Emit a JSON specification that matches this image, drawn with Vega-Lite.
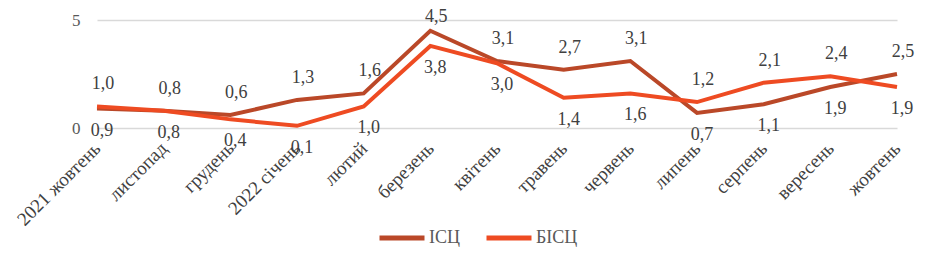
{
  "$schema": "https://vega.github.io/schema/vega-lite/v6.json",
  "width": 800,
  "height": 108,
  "autosize": {"type": "none"},
  "padding": {"left": 97, "top": 20, "right": 46, "bottom": 140},
  "background": "white",
  "config": {"view": {"stroke": null}, "font": "Liberation Serif"},
  "data": {
    "values": [
      {"month": "2021 жовтень", "series": "ІСЦ", "value": 0.9},
      {"month": "листопад", "series": "ІСЦ", "value": 0.8},
      {"month": "грудень", "series": "ІСЦ", "value": 0.6},
      {"month": "2022 січень", "series": "ІСЦ", "value": 1.3},
      {"month": "лютий", "series": "ІСЦ", "value": 1.6},
      {"month": "березень", "series": "ІСЦ", "value": 4.5},
      {"month": "квітень", "series": "ІСЦ", "value": 3.1},
      {"month": "травень", "series": "ІСЦ", "value": 2.7},
      {"month": "червень", "series": "ІСЦ", "value": 3.1},
      {"month": "липень", "series": "ІСЦ", "value": 0.7},
      {"month": "серпень", "series": "ІСЦ", "value": 1.1},
      {"month": "вересень", "series": "ІСЦ", "value": 1.9},
      {"month": "жовтень", "series": "ІСЦ", "value": 2.5},
      {"month": "2021 жовтень", "series": "БІСЦ", "value": 1.0},
      {"month": "листопад", "series": "БІСЦ", "value": 0.8},
      {"month": "грудень", "series": "БІСЦ", "value": 0.4},
      {"month": "2022 січень", "series": "БІСЦ", "value": 0.1},
      {"month": "лютий", "series": "БІСЦ", "value": 1.0},
      {"month": "березень", "series": "БІСЦ", "value": 3.8},
      {"month": "квітень", "series": "БІСЦ", "value": 3.0},
      {"month": "травень", "series": "БІСЦ", "value": 1.4},
      {"month": "червень", "series": "БІСЦ", "value": 1.6},
      {"month": "липень", "series": "БІСЦ", "value": 1.2},
      {"month": "серпень", "series": "БІСЦ", "value": 2.1},
      {"month": "вересень", "series": "БІСЦ", "value": 2.4},
      {"month": "жовтень", "series": "БІСЦ", "value": 1.9}
    ]
  },
  "transform": [
    {"joinaggregate": [{"op": "max", "field": "value", "as": "mx"}, {"op": "min", "field": "value", "as": "mn"}], "groupby": ["month"]},
    {"calculate": "(datum.value > datum.mn || (datum.mx == datum.mn && datum.series == 'БІСЦ')) ? 'top' : 'bottom'", "as": "pos"},
    {"calculate": "replace(format(datum.value, '.1f'), '.', ',')", "as": "label"},
    {"calculate": "min(datum.value, 4.1)", "as": "ty"}
  ],
  "encoding": {
    "x": {
      "field": "month", "type": "ordinal", "sort": null,
      "scale": {"type": "point", "padding": 0},
      "axis": {"title": null, "labelAngle": -45, "labelAlign": "right", "labelBaseline": "middle", "domain": false, "ticks": false, "labelFontSize": 19, "labelColor": "#404040", "labelPadding": 17, "labelFont": "Liberation Serif"}
    },
    "y": {
      "field": "value", "type": "quantitative",
      "scale": {"domain": [0, 5], "nice": false},
      "axis": {"title": null, "values": [0, 5], "grid": true, "gridColor": "#d9d9d9", "gridWidth": 1.5, "domain": false, "ticks": false, "labelPadding": 17, "labelFontSize": 17, "labelColor": "#595959", "labelFont": "Liberation Serif"}
    }
  },
  "layer": [
    {
      "mark": {"type": "line", "strokeWidth": 4, "strokeJoin": "miter"},
      "encoding": {
        "color": {
          "field": "series", "type": "nominal",
          "scale": {"domain": ["ІСЦ", "БІСЦ"], "range": ["#BA4828", "#EE4B22"]},
          "legend": {"title": null, "orient": "none", "legendX": 280, "legendY": 193, "direction": "horizontal", "symbolType": "stroke", "symbolSize": 2025, "symbolStrokeWidth": 5, "labelFontSize": 18, "labelColor": "#595959", "labelFont": "Liberation Serif", "labelOffset": 2, "columnPadding": 16}
        }
      }
    },
    {
      "transform": [{"filter": "datum.pos == 'top'"}],
      "mark": {"type": "text", "dx": 6, "dy": -22, "fontSize": 18, "color": "#404040", "font": "Liberation Serif"},
      "encoding": {"text": {"field": "label"}, "y": {"field": "ty", "type": "quantitative"}}
    },
    {
      "transform": [{"filter": "datum.pos == 'bottom'"}],
      "mark": {"type": "text", "dx": 5, "dy": 22, "fontSize": 18, "color": "#404040", "font": "Liberation Serif"},
      "encoding": {"text": {"field": "label"}}
    }
  ]
}
